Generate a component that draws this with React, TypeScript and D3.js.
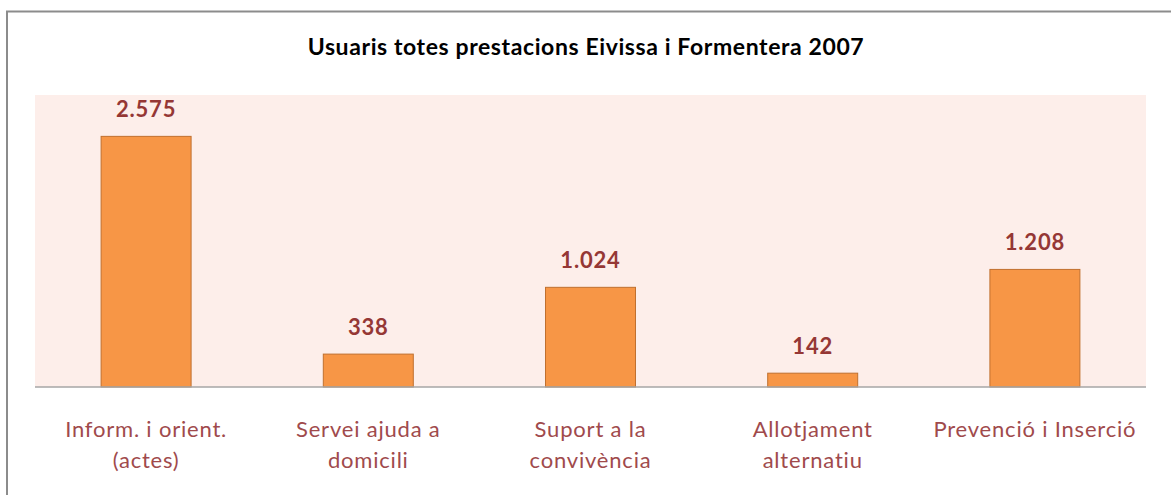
import React from "react";
import * as d3 from "d3";

const categories: string[][] = [
  ["Inform. i orient.", "(actes)"],
  ["Servei ajuda a", "domicili"],
  ["Suport a la", "convivència"],
  ["Allotjament", "alternatiu"],
  ["Prevenció i Inserció"],
];
const values: number[] = [2575, 338, 1024, 142, 1208];
const valueLabels: string[] = ["2.575", "338", "1.024", "142", "1.208"];
const title = "Usuaris totes prestacions Eivissa i Formentera 2007";
const yMax = 3000;

const W = 1171;
const H = 495;
const plot = { left: 35, right: 1146, top: 95, bottom: 387 };
const font = "Lato, 'Open Sans', 'DejaVu Sans', sans-serif";

export default function App() {
  const x = d3
    .scaleBand<number>()
    .domain(values.map((_, i) => i))
    .range([plot.left, plot.right])
    .paddingInner(0.595)
    .paddingOuter(0.2975);
  const y = d3.scaleLinear().domain([0, yMax]).range([plot.bottom, plot.top]);

  return (
    <svg
      width={W}
      height={H}
      style={{ position: "absolute", left: 0, top: 0, display: "block" }}
    >
      <rect x={0} y={0} width={W} height={H} fill="#ffffff" />
      <rect
        x={7}
        y={11.5}
        width={W + 10}
        height={H + 10}
        fill="#ffffff"
        stroke="#8c8c8c"
        strokeWidth={2}
      />
      <text
        x={586}
        y={55}
        textAnchor="middle"
        fontFamily={font}
        fontWeight="bold"
        fontSize={23}
        letterSpacing={0.6}
        fill="#000000"
      >
        {title}
      </text>
      <rect
        x={plot.left}
        y={plot.top}
        width={plot.right - plot.left}
        height={plot.bottom - plot.top}
        fill="#fdeeea"
      />
      {values.map((v, i) => (
        <g key={i}>
          <rect
            x={x(i)!}
            y={y(v)}
            width={x.bandwidth()}
            height={plot.bottom - y(v)}
            fill="#f79646"
            stroke="#c0702f"
            strokeWidth={1}
          />
          <text
            x={x(i)! + x.bandwidth() / 2}
            y={y(v) - 19}
            textAnchor="middle"
            fontFamily={font}
            fontWeight="bold"
            fontSize={22}
            letterSpacing={0.8}
            fill="#953735"
          >
            {valueLabels[i]}
          </text>
          {categories[i].map((line, j) => (
            <text
              key={j}
              x={x(i)! + x.bandwidth() / 2}
              y={437 + j * 31}
              textAnchor="middle"
              fontFamily={font}
              fontSize={22}
              letterSpacing={0.8}
              fill="#a04a4c"
            >
              {line}
            </text>
          ))}
        </g>
      ))}
      <line
        x1={plot.left}
        x2={plot.right}
        y1={plot.bottom}
        y2={plot.bottom}
        stroke="#a6a6a6"
        strokeWidth={1.5}
      />
    </svg>
  );
}
